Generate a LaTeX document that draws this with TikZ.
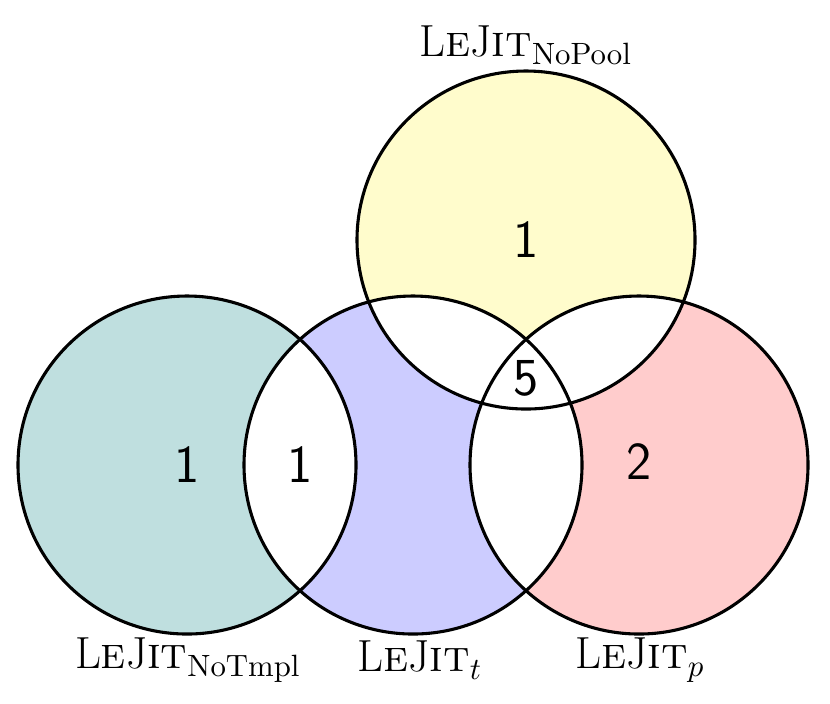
\documentclass[tikz,border=0pt]{standalone}
\usepackage{tikz}
\newcommand{\lejit}{L\textsc{e}J\textsc{it}}
\begin{document}
\begin{tikzpicture}[x=0.0125cm,y=-0.0125cm,
    ring/.style={draw=black,line width=1.1pt},
    count/.style={font=\sffamily\fontsize{19}{22}\selectfont},
    tag/.style={font=\fontsize{16}{19}\selectfont}]
      \useasboundingbox (0,0) rectangle (830,703);
      % circles filled
      \fill[teal!25] (187,465) circle (169);
      \fill[blue!20] (413,465) circle (169);
      \fill[red!20] (639,465) circle (169);
      \fill[yellow!20] (526,240) circle (169);
      % overlaps left white
      \begin{scope} \clip (187,465) circle (169); \fill[white] (413,465) circle (169); \end{scope}
      \begin{scope} \clip (413,465) circle (169); \fill[white] (639,465) circle (169); \fill[white] (526,240) circle (169); \end{scope}
      \begin{scope} \clip (639,465) circle (169); \fill[white] (526,240) circle (169); \end{scope}
      % outlines
      \draw[ring] (187,465) circle (169);
      \draw[ring] (413,465) circle (169);
      \draw[ring] (639,465) circle (169);
      \draw[ring] (526,240) circle (169);

      \node[count] (ntmpl) at (187,465) {1};
      \node[count] (ntmplt) at (300,465) {1};
      \node[count] (npool) at (526,240) {1};
      \node[count] (nall) at (526,378) {5};
      \node[count] (np) at (639,462) {2};

      \node[tag] (lpool) at (526,45) {\lejit$_{\mathrm{NoPool}}$};
      \node[tag] (ltmpl) at (188,660) {\lejit$_{\mathrm{NoTmpl}}$};
      \node[tag] (lt) at (420,660) {\lejit$_{t}$};
      \node[tag] (lp) at (640,660) {\lejit$_{p}$};
\end{tikzpicture}
\end{document}
